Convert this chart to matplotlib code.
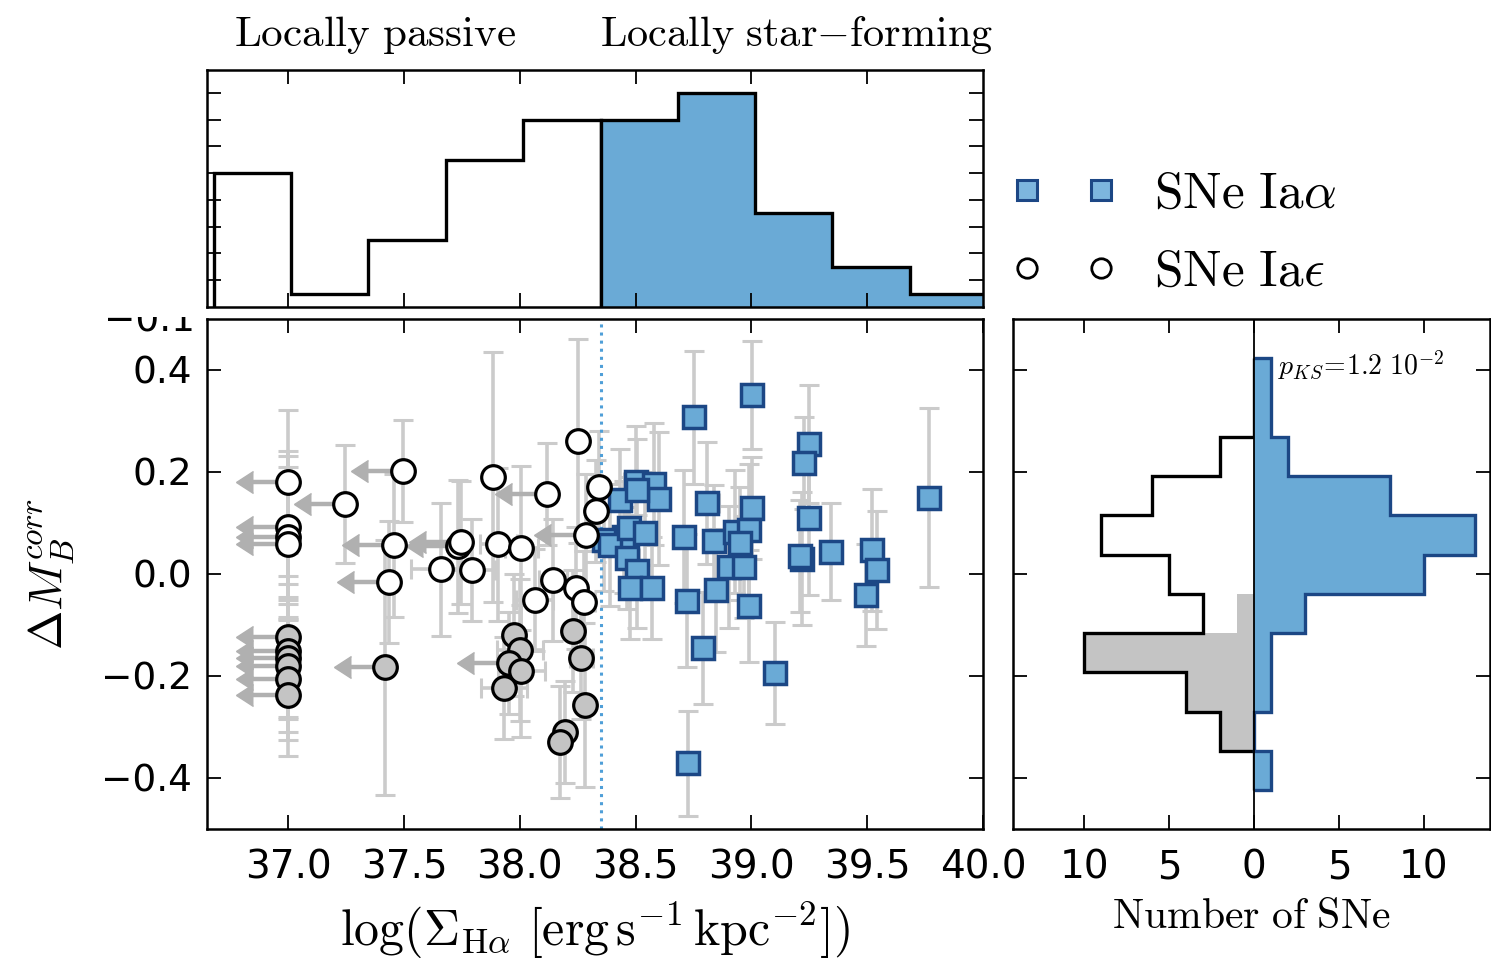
import numpy as np
import matplotlib
matplotlib.use("Agg")
import matplotlib.pyplot as plt
from matplotlib.lines import Line2D
from matplotlib.transforms import Bbox, TransformedBbox

plt.rcParams["mathtext.fontset"] = "cm"
plt.rcParams["font.family"] = "DejaVu Sans"

# --- SNe Ia-alpha (locally star-forming) -----------------------------------
sfx = [39.003, 38.751, 39.248, 39.229, 39.766, 38.500, 38.579, 38.600, 38.432,
       38.508, 38.809, 39.003, 39.248, 38.708, 38.838, 38.931, 38.989, 38.449,
       38.363, 39.342, 39.522, 38.390, 38.470, 38.950, 38.540, 38.464, 38.507,
       38.477, 38.572, 38.846, 38.903, 38.968, 39.220, 39.210, 39.543, 39.493,
       38.723, 38.989, 38.790, 39.101, 38.727]
sfy = [0.351, 0.307, 0.255, 0.218, 0.150, 0.181, 0.176, 0.148, 0.145,
       0.165, 0.139, 0.129, 0.109, 0.073, 0.065, 0.083, 0.086, 0.073,
       0.067, 0.044, 0.047, 0.057, 0.090, 0.060, 0.080, 0.031, 0.005,
       -0.028, -0.028, -0.032, 0.014, 0.014, 0.030, 0.036, 0.008, -0.041,
       -0.052, -0.063, -0.145, -0.195, -0.371]
sfyerr = [0.105, 0.130, 0.115, 0.090, 0.175, 0.110, 0.120, 0.130, 0.100,
          0.100, 0.120, 0.100, 0.150, 0.130, 0.110, 0.120, 0.130, 0.110,
          0.100, 0.095, 0.120, 0.120, 0.100, 0.110, 0.120, 0.100, 0.110,
          0.100, 0.100, 0.120, 0.120, 0.100, 0.130, 0.110, 0.115, 0.100,
          0.130, 0.110, 0.110, 0.100, 0.103]
sfxerr = [0.0, 0.0, 0.0, 0.0, 0.0, 0.05, 0.0, 0.05, 0.0,
          0.0, 0.05, 0.0, 0.0, 0.0, 0.04, 0.05, 0.0, 0.05,
          0.0, 0.0, 0.0, 0.05, 0.0, 0.0, 0.05, 0.05, 0.0,
          0.05, 0.0, 0.04, 0.05, 0.0, 0.0, 0.0, 0.0, 0.0,
          0.0, 0.0, 0.0, 0.0, 0.0]

# --- SNe Ia-epsilon (locally passive), brighter part ------------------------
opx = [37.0, 37.0, 37.0, 37.0, 37.247, 37.495, 37.456, 37.436, 37.662, 37.732,
       37.745, 37.794, 37.885, 37.907, 38.007, 38.118, 38.252, 38.341, 38.330,
       38.284, 38.142, 38.065, 38.245, 38.276]
opy = [0.181, 0.092, 0.072, 0.059, 0.137, 0.202, 0.056, -0.016, 0.009, 0.054,
       0.062, 0.008, 0.190, 0.058, 0.051, 0.156, 0.261, 0.171, 0.124,
       0.076, -0.012, -0.050, -0.027, -0.054]
opyerr = [0.14, 0.15, 0.16, 0.15, 0.115, 0.10, 0.14, 0.12, 0.13, 0.13,
          0.12, 0.10, 0.245, 0.15, 0.16, 0.10, 0.20, 0.11, 0.10,
          0.12, 0.12, 0.10, 0.12, 0.10]
opxerr = [0, 0, 0, 0, 0, 0, 0, 0, 0.13, 0,
          0, 0.10, 0, 0.08, 0.07, 0, 0, 0, 0,
          0, 0.06, 0.08, 0, 0.05]
oplim = [1, 1, 1, 1, 1, 1, 1, 1, 0, 1,
         1, 0, 0, 0, 0, 1, 0, 0, 0,
         1, 0, 0, 0, 0]

# --- SNe Ia-epsilon, fainter part (grey) ------------------------------------
gyx = [37.0, 37.0, 37.0, 37.0, 37.0, 37.0, 37.420, 37.974, 38.000, 37.952,
       38.007, 37.931, 38.232, 38.265, 38.282, 38.197, 38.176]
gyy = [-0.123, -0.150, -0.165, -0.180, -0.205, -0.237, -0.183, -0.120, -0.149,
       -0.175, -0.190, -0.223, -0.112, -0.165, -0.257, -0.309, -0.330]
gyyerr = [0.12, 0.13, 0.12, 0.13, 0.12, 0.12, 0.25, 0.12, 0.14,
          0.10, 0.13, 0.10, 0.12, 0.12, 0.16, 0.10, 0.11]
gyxerr = [0, 0, 0, 0, 0, 0, 0, 0, 0.10,
          0, 0.10, 0.10, 0, 0.05, 0, 0.03, 0]
gylim = [1, 1, 1, 1, 1, 1, 1, 0, 0,
         1, 0, 0, 0, 0, 0, 0, 0]

SF_CUT = 38.349
LIMIT_LEN = 0.15

# histogram of log(Sigma_Halpha), all SNe
top_edges = [36.680, 37.014, 37.347, 37.681, 38.015, 38.349,
             38.682, 39.016, 39.350, 39.683, 40.017]
top_counts = [10, 1, 5, 11, 14, 14, 16, 7, 3, 1]

# histograms of Delta M_B^corr (bins from bottom to top)
dm_edges = [-0.424, -0.347, -0.270, -0.193, -0.116, -0.039,
            0.038, 0.115, 0.192, 0.269, 0.346, 0.423]
dm_sf = [1, 0, 1, 1, 3, 10, 13, 8, 2, 1, 1]
dm_passive = [0, 2, 4, 10, 3, 5, 9, 6, 2, 0, 0]
dm_grey = [0, 2, 4, 10, 1, 0, 0, 0, 0, 0, 0]

BLUE = "#6aaad6"
NAVY = "#1c4785"
ERR = "#cbcbcb"
ARROW = "#b0b0b0"
GREY = "#c4c4c4"

W, H = 1491, 964
fig = plt.figure(figsize=(W / 100, H / 100), dpi=100)
ax = fig.add_axes([207 / W, (H - 829) / H, 776 / W, 510 / H])
axt = fig.add_axes([207 / W, (H - 307) / H, 776 / W, 237 / H])
axr = fig.add_axes([1013 / W, (H - 829) / H, 477 / W, 510 / H])


def style(a, lw=1.8):
    for s in a.spines.values():
        s.set_linewidth(lw)
    a.tick_params(which="both", direction="in", top=True, right=True,
                  length=10, width=1.3, labelsize=28, pad=14)


for a in (ax, axt, axr):
    style(a)
ax.tick_params(axis="y", labelsize=27, pad=11)


def draw_points(a, x, y, yerr, xerr, lim, **mk):
    x, y = np.asarray(x), np.asarray(y)
    yerr, xerr = np.asarray(yerr), np.asarray(xerr)
    lim = np.asarray(lim, bool)
    a.errorbar(x, y, yerr=yerr, fmt="none", ecolor=ERR, elinewidth=2.6,
               capsize=7, capthick=2.2, zorder=1)
    hx = (~lim) & (xerr > 0)
    if hx.any():
        a.errorbar(x[hx], y[hx], xerr=xerr[hx], fmt="none", ecolor=ERR,
                   elinewidth=2.6, capsize=7, capthick=2.2, zorder=1)
    if lim.any():
        eb = a.errorbar(x[lim], y[lim], xerr=LIMIT_LEN, xuplims=True,
                        fmt="none", ecolor=ARROW, elinewidth=3.2, capsize=8,
                        zorder=1.5)
        for cl in eb[1]:
            cl.set_markerfacecolor(ARROW)
            cl.set_markeredgecolor(ARROW)
    a.plot(x, y, ls="none", zorder=3, **mk)


sq_style = dict(marker="s", ms=16, mfc=BLUE, mec=NAVY, mew=2.5)
op_style = dict(marker="o", ms=17, mfc="white", mec="black", mew=2.3)
gy_style = dict(marker="o", ms=17, mfc=GREY, mec="black", mew=2.3)

draw_points(ax, sfx, sfy, sfyerr, sfxerr, [0] * len(sfx), **sq_style)
draw_points(ax, opx, opy, opyerr, opxerr, oplim, **op_style)
draw_points(ax, gyx, gyy, gyyerr, gyxerr, gylim, **gy_style)
ax.axvline(SF_CUT, color="#4f9fd8", ls=":", lw=2.2, zorder=2)

ax.set_xlim(36.65, 40.0)
ax.set_ylim(-0.5, 0.5)
ax.set_xticks([37.0, 37.5, 38.0, 38.5, 39.0, 39.5, 40.0])
ax.set_xticklabels(["37.0", "37.5", "38.0", "38.5", "39.0", "39.5", "40.0"])
ax.set_yticks([-0.4, -0.2, 0.0, 0.2, 0.4])
ax.set_yticklabels(["\u22120.4", "\u22120.2", "0.0", "0.2", "0.4"])
ax.set_xlabel(r"$\log(\Sigma_{\mathrm{H}\alpha}\ [\mathrm{erg\,s^{-1}\,kpc^{-2}}])$",
              fontsize=36, labelpad=10)
ax.set_ylabel(r"$\Delta M_B^{corr}$", fontsize=34, labelpad=18)

# leftover tick label half hidden under the upper panel
lab = fig.text(195 / W, (H - 322) / H, "\u22120.1", fontsize=27,
               ha="right", va="center")
lab.set_clip_box(TransformedBbox(Bbox([[0, 0], [1, (H - 317) / H]]),
                                 fig.transFigure))
lab.set_clip_on(True)

# upper panel: distribution in Sigma_Halpha
axt.stairs(top_counts[:5], top_edges[:6], baseline=0, fill=False,
           edgecolor="black", lw=2.4)
axt.stairs(top_counts[5:], top_edges[5:], baseline=0, fill=True,
           facecolor=BLUE, edgecolor="black", lw=2.4)
axt.set_xlim(36.65, 40.0)
axt.set_ylim(0, 17.7)
axt.set_xticks([37.0, 37.5, 38.0, 38.5, 39.0, 39.5])
axt.set_yticks([2, 4, 6, 8, 10, 12, 14, 16])
axt.tick_params(labelbottom=False, labelleft=False)
axt.text(0.2165, 1.148, r"$\mathrm{Locally\ passive}$", transform=axt.transAxes,
         fontsize=31, ha="center", va="center")
axt.text(0.76, 1.148, r"$\mathrm{Locally\ star{-}forming}$",
         transform=axt.transAxes, fontsize=30.5, ha="center", va="center")

# right panel: distribution in Delta M_B^corr
neg_grey = [-v for v in dm_grey]
neg_pass = [-v for v in dm_passive]
axr.stairs(neg_grey, dm_edges, orientation="horizontal", baseline=0,
           fill=True, facecolor=GREY, edgecolor="none")
axr.stairs(neg_pass, dm_edges, orientation="horizontal", baseline=0,
           fill=False, edgecolor="black", lw=2.4)
axr.stairs(dm_sf, dm_edges, orientation="horizontal", baseline=0,
           fill=True, facecolor=BLUE, edgecolor="none")
axr.stairs(dm_sf, dm_edges, orientation="horizontal", baseline=0,
           fill=False, edgecolor=NAVY, lw=2.4)
axr.axvline(0, color="black", lw=1.3)
axr.set_xlim(-14.2, 13.9)
axr.set_ylim(-0.5, 0.5)
axr.set_xticks([-10, -5, 0, 5, 10])
axr.set_xticklabels(["10", "5", "0", "5", "10"])
axr.set_yticks([-0.4, -0.2, 0.0, 0.2, 0.4])
axr.tick_params(labelleft=False)
axr.set_xlabel(r"$\mathrm{Number\ of\ SNe}$", fontsize=30, labelpad=6)
axr.text(0.555, 0.91, r"$p_{KS}\!=\!1.2\ 10^{-2}$", transform=axr.transAxes,
         fontsize=20, ha="left", va="center")

handles = [Line2D([], [], ls="none", marker="s", ms=15, mfc="#7db6de",
                  mec=NAVY, mew=2.2),
           Line2D([], [], ls="none", marker="o", ms=14, mfc="white",
                  mec="black", mew=2.0)]
fig.legend(handles, [r"$\mathrm{SNe\ Ia}\alpha$", r"$\mathrm{SNe\ Ia}\epsilon$"],
           loc="center left", bbox_to_anchor=(991 / W, (H - 233) / H),
           frameon=False, numpoints=2, fontsize=37, handlelength=2.05,
           handletextpad=0.72, labelspacing=0.55, borderaxespad=0)

fig.savefig("out.png", dpi=100)
